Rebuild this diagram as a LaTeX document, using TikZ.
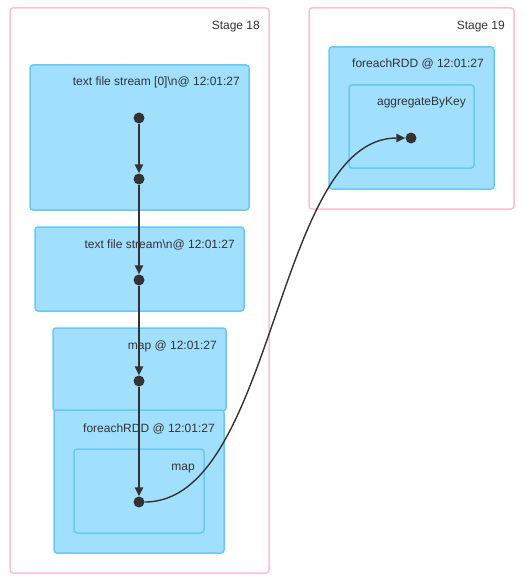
\documentclass[tikz,border=0pt]{standalone}
\usepackage{fontspec}
\setmainfont{Liberation Sans}
\usetikzlibrary{arrows.meta}

\definecolor{stagepink}{RGB}{255,192,203}
\definecolor{rddfill}{RGB}{161,223,255}
\definecolor{rddline}{RGB}{104,201,247}
\definecolor{edgegray}{RGB}{51,51,51}

\begin{document}
\begin{tikzpicture}[x=1pt,y=-1pt,
    stage/.style={draw=stagepink, line width=1.5pt, rounded corners=3pt},
    rdd/.style={draw=rddline, fill=rddfill, line width=1.5pt, rounded corners=3pt},
    lbl/.style={anchor=base east, inner sep=0pt, text=edgegray, font=\fontsize{12}{14}\selectfont},
    dot/.style={circle, fill=edgegray, inner sep=0pt, minimum size=11pt},
    edge/.style={draw=edgegray, line width=1.4pt, -{Triangle[length=9pt,width=8.5pt]}}]
    \useasboundingbox (0,0) rectangle (531,583);

    % Stages
    \draw[stage] (10,8) rectangle (269,573);
    \node[lbl] (stage18) at (260,30) {Stage 18};
    \draw[stage] (309,8) rectangle (514,209);
    \node[lbl] (stage19) at (505,30) {Stage 19};

    % Stage 18 clusters
    \draw[rdd] (30,65) rectangle (249,210);
    \node[lbl] (tfs0) at (240,86) {text file stream [0]\textbackslash n@ 12:01:27};
    \draw[rdd] (35,227) rectangle (244,311);
    \node[lbl] (tfs) at (235,248) {text file stream\textbackslash n@ 12:01:27};
    \draw[rdd] (53,328) rectangle (226,411);
    \node[lbl] (map1) at (217,349) {map @ 12:01:27};
    \draw[rdd] (54,410) rectangle (224,553);
    \node[lbl] (fe18) at (215,432) {foreachRDD @ 12:01:27};
    \draw[rdd] (74,449) rectangle (204,533);
    \node[lbl] (map2) at (195,470) {map};

    % Stage 19 clusters
    \draw[rdd] (329,47) rectangle (494,189);
    \node[lbl] (fe19) at (484,68) {foreachRDD @ 12:01:27};
    \draw[rdd] (349,85) rectangle (474,168);
    \node[lbl] (agg) at (466,106) {aggregateByKey};

    % RDD dots
    \node[dot] (d1) at (139,118) {};
    \node[dot] (d2) at (139,179) {};
    \node[dot] (d3) at (139,280) {};
    \node[dot] (d4) at (139,381) {};
    \node[dot] (d5) at (139,502) {};
    \node[dot] (d6) at (411,138) {};

    % Edges
    \draw[edge] (d1) -- (d2);
    \draw[edge] (d2) -- (d3);
    \draw[edge] (d3) -- (d4);
    \draw[edge] (d4) -- (d5);
    \draw[edge] (d5) .. controls (275,502) and (275,138) .. (d6);
\end{tikzpicture}
\end{document}
